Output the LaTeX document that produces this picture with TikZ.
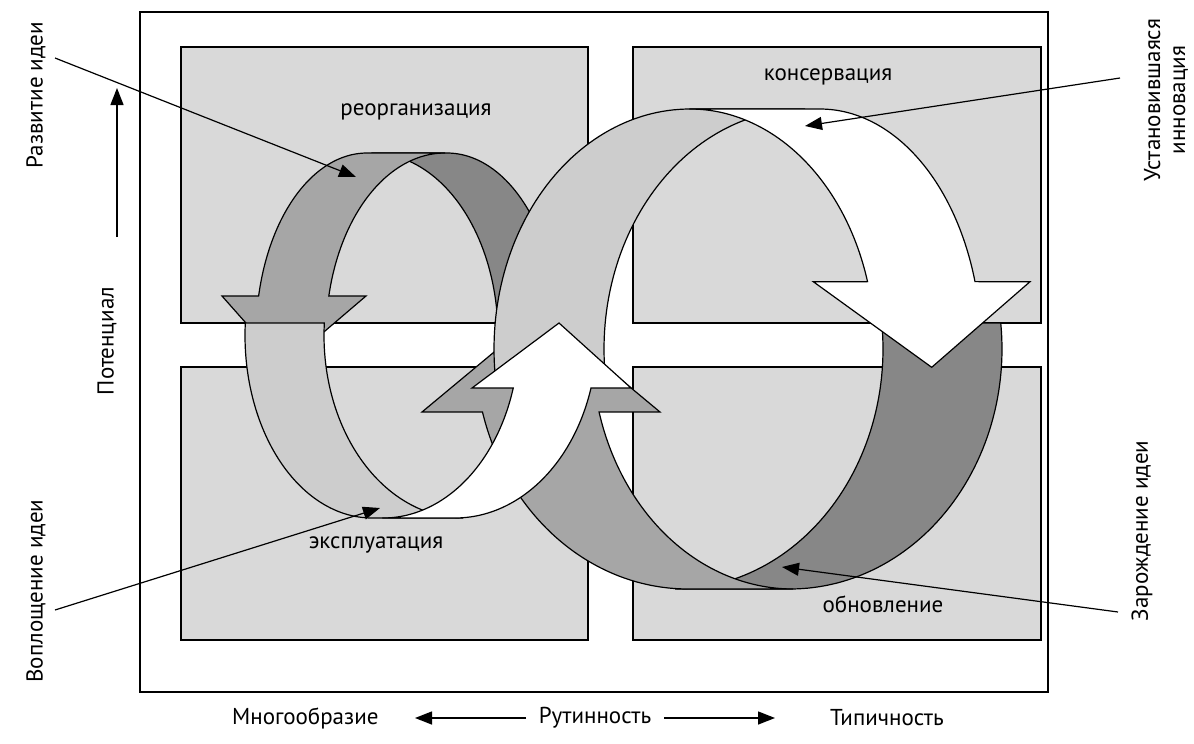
\documentclass[tikz,border=0pt]{standalone}
\usepackage{fontspec}
\setmainfont{PT Sans}
\usetikzlibrary{arrows.meta}
\definecolor{boxgray}{HTML}{D9D9D9}
\definecolor{ltgray}{HTML}{CDCDCD}
\definecolor{mdgray}{HTML}{A6A6A6}
\definecolor{dkgray}{HTML}{878787}
\begin{document}
\begin{tikzpicture}[x=1pt,y=-1pt,
  sl/.style n args={4}{insert path={-- plot[domain=#3:#4,samples=60,variable=\t]({#1+#2*cos(\t)},{335.5+182.5*sin(\t)})}},
  bl/.style n args={4}{insert path={-- plot[domain=#3:#4,samples=60,variable=\t]({#1+#2*cos(\t)},{349+240*sin(\t)})}},
  quad/.style={draw=black,line width=1.2pt,fill=boxgray},
  band/.style={draw=black,line width=1.2pt,line join=miter},
  lbl/.style={font=\fontsize{23}{27}\selectfont,inner sep=0pt},
  side/.style={font=\fontsize{23}{25}\selectfont,inner sep=0pt,rotate=90,align=center},
  ptr/.style={line width=1.2pt,-{Triangle[length=17pt,width=13pt]}},
  axis/.style={line width=1.4pt,-{Triangle[length=17pt,width=13pt]}}]
\useasboundingbox (0,0) rectangle (1194,744);
\fill[white] (0,0) rectangle (1194,744);
% frame and quadrants
\draw[line width=1.5pt] (140,12) rectangle (1048,692);
\draw[quad] (181,47) rectangle (588,323);
\draw[quad] (633,47) rectangle (1041,323);
\draw[quad] (181,367) rectangle (588,640);
\draw[quad] (633,367) rectangle (1041,640);
% quadrant labels
\node[lbl] (reorg) at (416,112) {реорганизация};
\node[lbl] (kons) at (828,77) {консервация};
\node[lbl] (expl) at (376,545) {эксплуатация};
\node[lbl] (obn) at (883,604) {обновление};
% small loop
\filldraw[band,fill=dkgray] (372,153) -- (447,153) [sl={447}{112}{270}{380.7}] [sl={372}{126}{380.7}{270}] -- cycle;
\filldraw[band,fill=mdgray] (367,153) -- (445,153) [sl={445}{119}{270}{192.5}] -- (366,296) -- (284,366) -- (222,296) [sl={367}{111}{192.5}{270}] -- cycle;
\filldraw[band,fill=ltgray] (245.3,323) [sl={463}{139}{183.9}{90}] [sl={372}{127}{90}{183.9}] -- cycle;
% big loop
\filldraw[band,fill=dkgray] (881.8,323) [bl={675}{208}{-6.2}{90}] [bl={790}{212}{90}{-6.2}] -- cycle;
\filldraw[band,fill=mdgray] (688,589) [bl={688}{213}{90}{164.8}] -- (422,412) -- (541,313) -- (660,412) [bl={793}{201}{164.8}{90}] -- cycle;
\filldraw[band,fill=ltgray] (690,109) -- (805,109) [bl={805}{201}{270}{174.5}] [bl={690}{196}{174.5}{270}] -- cycle;
\filldraw[band,fill=white] (690,109) -- (820,109) [bl={820}{161.5}{270}{343.7}] -- (1030,281.7) -- (931.7,367.3) -- (813.3,281.7) [bl={690}{185}{343.7}{270}] -- cycle;
% small loop white arrow
\filldraw[band,fill=white] (383,518) [sl={455}{142}{90}{16.7}] -- (631,388) -- (559,323) -- (472,388) [sl={383}{136}{16.7}{90}] -- cycle;
% side texts
\node[side] (razv) at (36,95) {Развитие идеи};
\node[side] (pot) at (107,341) {Потенциал};
\node[side] (vopl) at (36,591) {Воплощение идеи};
\node[side] (ustan) at (1166,100) {Установившаяся\\инновация};
\node[side] (zar) at (1142,531) {Зарождение идеи};
% bottom axis texts
\node[lbl,anchor=west] (mnog) at (232,718) {Многообразие};
\node[lbl] (rut) at (595,718) {Рутинность};
\node[lbl,anchor=west] (tip) at (830,718) {Типичность};
% pointer lines
\coordinate (p1s) at (55,58);   \coordinate (p1e) at (356,177);
\coordinate (p2s) at (55,610);  \coordinate (p2e) at (380,508);
\coordinate (p3s) at (1120,78); \coordinate (p3e) at (805,126);
\coordinate (p4s) at (1118,612); \coordinate (p4e) at (782,567);
\draw[ptr] (p1s) -- (p1e);
\draw[ptr] (p2s) -- (p2e);
\draw[ptr] (p3s) -- (p3e);
\draw[ptr] (p4s) -- (p4e);
% axis arrows
\coordinate (up0) at (117,237); \coordinate (up1) at (117,88);
\draw[axis] (up0) -- (up1);
\coordinate (l0) at (526,718); \coordinate (l1) at (415,718);
\coordinate (r0) at (664,718); \coordinate (r1) at (775,718);
\draw[axis] (l0) -- (l1);
\draw[axis] (r0) -- (r1);
\end{tikzpicture}
\end{document}
